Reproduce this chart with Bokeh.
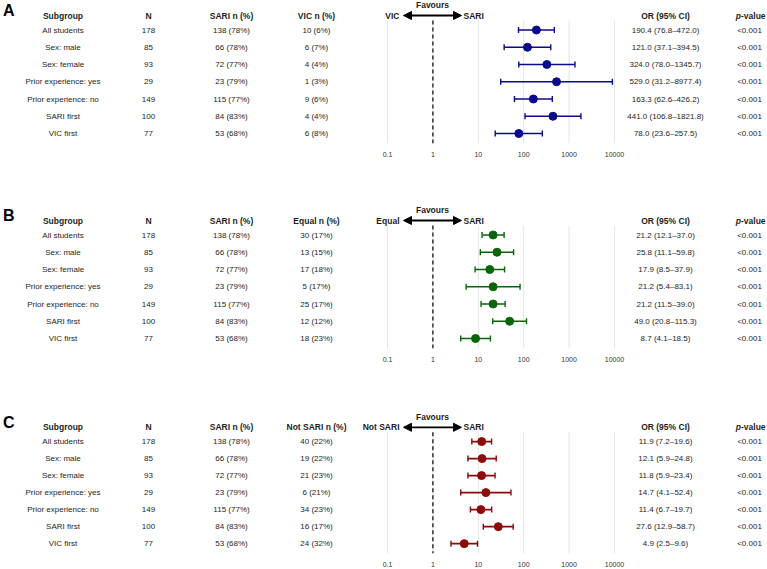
import numpy as np
from bokeh.plotting import figure
from bokeh.models import (Range1d, LogScale, LogAxis, FixedTicker, PrintfTickFormatter,
                          ColumnDataSource, Arrow, NormalHead)
from bokeh.layouts import column
from bokeh.core.properties import value
from bokeh.embed import file_html
from bokeh.resources import INLINE

# ---------------------------------------------------------------- data
subgroups = ["All students", "Sex: male", "Sex: female", "Prior experience: yes",
             "Prior experience: no", "SARI first", "VIC first"]
n_total = [178, 85, 93, 29, 149, 100, 77]
sari_n = [138, 66, 72, 23, 115, 84, 53]
sari_pct = [78, 78, 77, 79, 77, 83, 68]

# A: SARI vs VIC
vic_n = [10, 6, 4, 1, 9, 4, 6]
vic_pct = [6, 7, 4, 3, 6, 4, 8]
vic_or = [190.4, 121.0, 324.0, 529.0, 163.3, 441.0, 78.0]
vic_lo = [76.8, 37.1, 78.0, 31.2, 62.6, 106.8, 23.6]
vic_hi = [472.0, 394.5, 1345.7, 8977.4, 426.2, 1821.8, 257.5]
vic_p = ["<0.001", "<0.001", "<0.001", "<0.001", "<0.001", "<0.001", "<0.001"]

# B: SARI vs Equal
equal_n = [30, 13, 17, 5, 25, 12, 18]
equal_pct = [17, 15, 18, 17, 17, 12, 23]
equal_or = [21.2, 25.8, 17.9, 21.2, 21.2, 49.0, 8.7]
equal_lo = [12.1, 11.1, 8.5, 5.4, 11.5, 20.8, 4.1]
equal_hi = [37.0, 59.8, 37.9, 83.1, 39.0, 115.3, 18.5]
equal_p = ["<0.001", "<0.001", "<0.001", "<0.001", "<0.001", "<0.001", "<0.001"]

# C: SARI vs Not SARI
notsari_n = [40, 19, 21, 6, 34, 16, 24]
notsari_pct = [22, 22, 23, 21, 23, 17, 32]
notsari_or = [11.9, 12.1, 11.8, 14.7, 11.4, 27.6, 4.9]
notsari_lo = [7.2, 5.9, 5.9, 4.1, 6.7, 12.9, 2.5]
notsari_hi = [19.6, 24.8, 23.4, 52.4, 19.7, 58.7, 9.6]
notsari_p = ["<0.001", "<0.001", "<0.001", "<0.001", "<0.001", "<0.001", "<0.001"]

or_ticks = [0.1, 1, 10, 100, 1000, 10000]

# ---------------------------------------------------------------- layout
FONT = "Liberation Sans"
TXT = "#1e1e1e"
W = 767

# table column centres (screen-like x units, 0..W)
COL_SUB, COL_N, COL_SARI, COL_CMP = 62.5, 148, 231, 316
COL_OR, COL_P, P_HDR_SPLIT = 665, 749, 740.5
X_FAV, X_LEFT_LBL, X_RIGHT_LBL = 432, 399, 463
X_ARROW = (403, 461)

# log OR scale sharing the same frame: 0.1 sits at x=387, one decade = 45.4
OR_X0, DECADE = 387, 45.4
or_range = (10 ** (-1 - OR_X0 / DECADE), 10 ** (-1 + (W - OR_X0) / DECADE))

ROW_PX = 17.25
FIRST_ROW_PX = 29.5
FRAME_H = 143
y_top = 1 - FIRST_ROW_PX / ROW_PX
y_bottom = y_top + FRAME_H / ROW_PX
Y_HDR, Y_FAV, Y_LETTER, Y_GRID0 = 0.16, -0.45, -0.12, 0.45
rows = [1, 2, 3, 4, 5, 6, 7]


def panel(letter, cmp_label, cmp_n, cmp_pct, ors, los, his, pvals, color, height):
    p = figure(width=W, height=height, x_range=Range1d(0, W),
               y_range=Range1d(y_bottom, y_top),
               x_axis_location=None, y_axis_location=None,
               toolbar_location=None, output_backend="svg",
               min_border_left=0, min_border_right=0, min_border_top=0,
               min_border_bottom=height - FRAME_H,
               outline_line_color=None, background_fill_color="white",
               border_fill_color="white")
    p.xgrid.visible = False
    p.ygrid.visible = False
    p.extra_x_ranges = {"or": Range1d(*or_range)}
    p.extra_x_scales = {"or": LogScale()}

    axis = LogAxis(x_range_name="or", ticker=FixedTicker(ticks=or_ticks),
                   formatter=PrintfTickFormatter(format="%g"),
                   axis_line_color=None, major_tick_line_color=None,
                   minor_tick_line_color=None, major_label_standoff=2,
                   major_label_text_font=FONT, major_label_text_font_size="7px",
                   major_label_text_color="#333333")
    p.add_layout(axis, "below")

    src = ColumnDataSource(dict(
        y=rows,
        sub=subgroups,
        n=[str(v) for v in n_total],
        sari=[f"{a} ({b}%)" for a, b in zip(sari_n, sari_pct)],
        cmp=[f"{a} ({b}%)" for a, b in zip(cmp_n, cmp_pct)],
        ortxt=[f"{o:.1f} ({l:.1f}\u2013{h:.1f})" for o, l, h in zip(ors, los, his)],
        pv=pvals, orv=ors, lo=los, hi=his,
    ))

    # vertical reference lines on the OR scale
    p.segment(x0=or_ticks, x1=or_ticks, y0=Y_GRID0, y1=y_bottom, x_range_name="or",
              line_color="#e4e4e4", line_width=1)
    p.segment(x0=[1], x1=[1], y0=Y_GRID0, y1=y_bottom, x_range_name="or",
              line_color="#222222", line_width=1.4, line_dash="4 3")

    # confidence intervals and point estimates
    p.segment(x0="lo", x1="hi", y0="y", y1="y", source=src, x_range_name="or",
              line_color=color, line_width=1.6)
    for end in ("lo", "hi"):
        p.scatter(x=end, y="y", source=src, x_range_name="or", marker="dash",
                  angle=np.pi / 2, size=6, line_color=color, line_width=1.4)
    p.scatter(x="orv", y="y", source=src, x_range_name="or", size=8,
              fill_color=color, line_color=color)

    # table text
    common = dict(text_baseline="middle", text_font=value(FONT), text_color=TXT)
    body = dict(text_font_size="8px", text_align="center", **common)
    for xpos, col in ((COL_SUB, "sub"), (COL_N, "n"), (COL_SARI, "sari"),
                      (COL_CMP, "cmp"), (COL_OR, "ortxt"), (COL_P, "pv")):
        p.text(x=xpos, y="y", text=col, source=src, **body)

    bold = dict(text_font_size="8.5px", text_font_style="bold", **common)
    p.text(x=[COL_SUB, COL_N, COL_SARI, COL_CMP, COL_OR],
           y=[Y_HDR] * 5,
           text=["Subgroup", "N", "SARI n (%)", f"{cmp_label} n (%)", "OR (95% CI)"],
           text_align="center", **bold)
    p.text(x=[P_HDR_SPLIT], y=[Y_HDR], text=["-value"], text_align="left", **bold)
    p.text(x=[P_HDR_SPLIT], y=[Y_HDR], text=["p"], text_align="right",
           text_baseline="middle", text_font=value(FONT), text_color=TXT,
           text_font_size="8.5px", text_font_style="bold italic")

    # favours arrow
    p.text(x=[X_FAV], y=[Y_FAV], text=["Favours"], text_align="center", **bold)
    p.text(x=[X_LEFT_LBL], y=[Y_HDR], text=[cmp_label], text_align="right", **bold)
    p.text(x=[X_RIGHT_LBL], y=[Y_HDR], text=["SARI"], text_align="left", **bold)
    p.add_layout(Arrow(start=NormalHead(size=8, fill_color="black", line_color="black"),
                       end=NormalHead(size=8, fill_color="black", line_color="black"),
                       x_start=X_ARROW[0], x_end=X_ARROW[1], y_start=Y_HDR, y_end=Y_HDR,
                       line_width=1.8, line_color="black"))

    # panel letter
    p.text(x=[2.5], y=[Y_LETTER], text=[letter], text_align="left", text_baseline="middle",
           text_font=value(FONT), text_font_size="16px", text_font_style="bold",
           text_color="black")
    return p


pa = panel("A", "VIC", vic_n, vic_pct, vic_or, vic_lo, vic_hi, vic_p, "#0a0a8c", 205)
pb = panel("B", "Equal", equal_n, equal_pct, equal_or, equal_lo, equal_hi, equal_p,
           "#0a650a", 207)
pc = panel("C", "Not SARI", notsari_n, notsari_pct, notsari_or, notsari_lo, notsari_hi,
           notsari_p, "#8c0a0a", 157)

layout = column(pa, pb, pc, spacing=0)
open("out.html", "w").write(file_html(layout, INLINE))
